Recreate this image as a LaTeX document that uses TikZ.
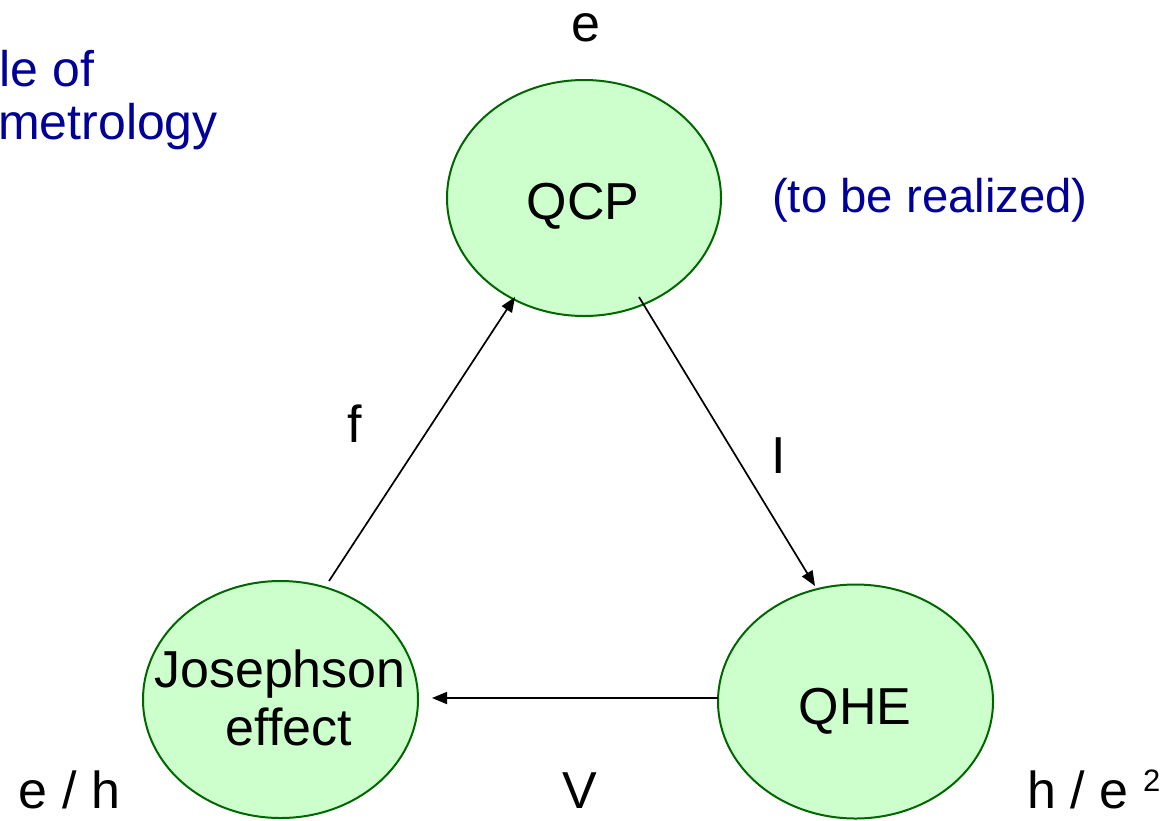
\documentclass[tikz,border=0pt]{standalone}
\usepackage{fontspec}
\setmainfont{Liberation Sans}
\usetikzlibrary{shapes.geometric,arrows.meta}
\definecolor{ellfill}{HTML}{CCFFCC}
\definecolor{elldraw}{HTML}{006600}
\definecolor{noteblue}{HTML}{000099}
\tikzset{
  ell/.style={ellipse,draw=elldraw,fill=ellfill,line width=2pt,inner sep=0pt},
  txt/.style={anchor=base,inner sep=0pt,font=\fontsize{52}{58}\selectfont},
  note/.style={anchor=base west,inner sep=0pt,text=noteblue,font=\fontsize{50}{56}\selectfont},
  conn/.style={line width=1.7pt,-{Triangle[length=15pt,width=12pt]}}
}
\begin{document}
\begin{tikzpicture}[x=1pt,y=-1pt]
\useasboundingbox (0,0) rectangle (1169,820);
% ellipses
\node[ell,minimum width=274pt,minimum height=236pt] (qcp) at (584,198) {};
\node[ell,minimum width=275pt,minimum height=237pt] (jos) at (280.5,699.5) {};
\node[ell,minimum width=275pt,minimum height=234pt] (qhe) at (855.5,701.5) {};
% texts in ellipses
\node[txt] (qcpt) at (583,219) {QCP};
\node[txt] (jost1) at (280,687) {Josephson};
\node[txt] (jost2) at (289,745) {effect};
\node[txt] (qhet) at (855,724) {QHE};
% labels
\node[txt] (le) at (585.5,41) {e};
\node[txt] (lf) at (355,442) {f};
\node[txt] (lI) at (778.5,473) {I};
\node[txt] (lV) at (580,808) {V};
\node[txt] (leh) at (69.5,808) {e / h};
\node[txt,anchor=base west] (lhe) at (1027,808) {h / e};
\node[anchor=base west,inner sep=0pt,font=\fontsize{31}{34}\selectfont] (lsq) at (1143,791) {2};
% blue notes
\node[note] (n1) at (-0.5,86) {le of};
\node[note] (n2) at (-2,139) {metrology};
\node[note,font=\fontsize{47.3}{54}\selectfont] (n3) at (772,212) {(to be realized)};
% connectors
\coordinate (js) at (329,581);
\coordinate (qt) at (515,297);
\coordinate (qs) at (639,297);
\coordinate (ht) at (815,586);
\coordinate (jt) at (432,698);
\coordinate (hs) at (718,698);
\draw[conn] (js) -- (qt);
\draw[conn] (qs) -- (ht);
\draw[conn] (hs) -- (jt);
\end{tikzpicture}
\end{document}
